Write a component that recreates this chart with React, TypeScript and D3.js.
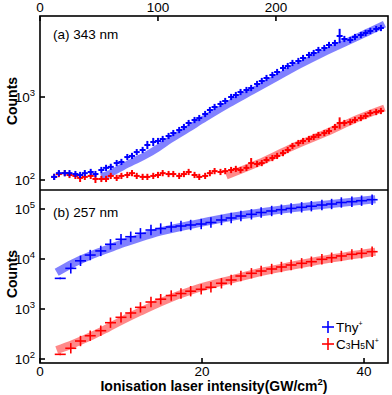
import * as d3 from "d3";

const W = 392;
const H = 395;

// ---- panel (a) 343 nm : top axis ----
const topX = [12, 16, 21, 25, 30, 34, 38, 43, 47, 52, 56, 60, 65, 69, 74, 78, 82, 87, 91, 96,
  100, 104, 109, 113, 118, 122, 126, 131, 135, 140, 144, 148, 153, 157, 162, 166, 170, 175, 179, 184,
  188, 192, 197, 201, 206, 210, 214, 219, 223, 228, 232, 236, 241, 245, 250, 254, 258, 263, 267, 272,
  276, 280, 285, 289];
const topThy = [109, 121, 121, 121, 118, 115, 121, 125, 118, 132, 140, 144, 160, 165, 189, 195, 217, 230, 264, 287,
  295, 312, 339, 368, 400, 435, 486, 528, 558, 624, 697, 758, 824, 895, 1000, 1057, 1148, 1214, 1283, 1435,
  1560, 1694, 1841, 2000, 2235, 2362, 2570, 2716, 2951, 3206, 3389, 3683, 3893, 4236, 4475, 5433, 5000, 4862, 5282, 5584,
  5902, 6239, 6595, 6780];
const topC3 = [109, 118, 121, 115, 112, 106, 109, 112, 103, 103, 103, 112, 106, 112, 115, 121, 112, 109, 109, 112,
  115, 121, 118, 118, 112, 118, 125, 115, 109, 112, 121, 128, 125, 128, 132, 136, 132, 140, 160, 156,
  160, 174, 184, 195, 211, 230, 257, 279, 295, 312, 330, 349, 368, 389, 435, 486, 486, 500, 528, 558,
  590, 641, 659, 678];
const topThyErr: Record<number, number> = { 55: 1.22, 18: 1.12, 19: 1.12 };
const topC3Err: Record<number, number> = { 38: 1.15, 55: 1.17, 5: 1.12, 8: 1.12 };
const topFitThyX = [52, 60, 70, 80, 90, 100, 110, 125, 140, 160, 180, 200, 220, 240, 260, 280, 292];
const topFitThy = [109, 121, 144, 170, 200, 243, 304, 411, 558, 824, 1181, 1694, 2431, 3389, 4600, 6239, 7570];
const topFitC3X = [158, 185, 214, 242, 270, 292];
const topFitC3 = [112, 160, 250, 368, 558, 737];

// ---- panel (b) 257 nm : bottom axis ----
const botX = [2.5, 3.8, 5.0, 6.2, 7.5, 8.7, 10.0, 11.2, 12.4, 13.7, 14.9, 16.2, 17.4, 18.6, 19.9, 21.1,
  22.4, 23.6, 24.8, 26.1, 27.3, 28.6, 29.8, 31.0, 32.3, 33.5, 34.8, 36.0, 37.2, 38.5, 39.7, 41.0];
const botThy = [4100, 6500, 9200, 12000, 14500, 19700, 24800, 27900, 32700, 38000, 40700, 43700, 45700, 47900, 50100, 53700,
  60300, 66100, 72400, 78300, 85100, 91200, 96800, 102800, 108100, 113800, 120200, 125900, 134900, 140000, 146600, 153500];
const botC3 = [124, 164, 229, 292, 368, 532, 682, 832, 1080, 1380, 1570, 1860, 2040, 2270, 2480, 2720,
  3270, 3800, 4570, 5180, 5750, 6310, 6920, 7590, 8200, 8830, 9860, 10600, 11500, 12400, 13000, 14000];
const botThyErr: Record<number, number> = { 0: 1.04 };
const botC3Err: Record<number, number> = { 0: 1.04 };
const botFitX = [2.06, 4.07, 6.17, 8.27, 10.25, 12.35, 14.8, 19.5, 23.7, 27.8, 31.1, 34.8, 41.4];
const botFitThy = [5420, 8200, 11640, 15630, 20600, 26670, 35160, 51760, 70150, 88310, 103300, 120200, 156300];
const botFitC3 = [151, 200, 279, 411, 603, 883, 1350, 2594, 3926, 5754, 7345, 9550, 14000];

const topXTicks = [0, 100, 200];
const topYTicks = [2, 3];
const botXTicks = [0, 20, 40];
const botYTicks = [2, 3, 4, 5];

const BLUE = "#0000ff";
const RED = "#ff0000";
const FONT = "Arial, 'Liberation Sans', sans-serif";

const L = 40, R = 388, T = 16, MID = 190, B = 363;

const xTop = d3.scaleLinear([0, 295], [L, R]);
const yTop = d3.scaleLog([75.8, 9463], [MID, T]);
const xBot = d3.scaleLinear([0, 42.96], [L, R]);
const yBot = d3.scaleLog([83.2, 239900], [B, MID]);

function Crosses({ xs, ys, x, y, color, hw, err, errDefault, sw }: any) {
  return (
    <g stroke={color} strokeWidth={sw}>
      {xs.map((xv: number, i: number) => {
        const f = err[i] ?? errDefault;
        const cx = x(xv);
        return (
          <g key={i}>
            <line x1={cx - hw} x2={cx + hw} y1={y(ys[i])} y2={y(ys[i])} />
            <line x1={cx} x2={cx} y1={y(ys[i] * f)} y2={y(ys[i] / f)} />
          </g>
        );
      })}
    </g>
  );
}

function Band({ xs, ys, x, y, color, width }: any) {
  const path = d3.line<number>().x((d, i) => x(xs[i])).y((d) => y(d)).curve(d3.curveMonotoneX)(ys);
  return <path d={path ?? ""} fill="none" stroke={color} strokeWidth={width} strokeOpacity={0.6} />;
}

function Pow({ x, y, exp }: { x: number; y: number; exp: number }) {
  return (
    <text x={x} y={y} textAnchor="end" fontSize={13.5} fontFamily={FONT}>
      10<tspan fontSize={9.5} dy={-6}>{exp}</tspan>
    </text>
  );
}

export default function App() {
  return (
    <svg width={W} height={H} style={{ position: "absolute", left: 0, top: 0, background: "#fff" }}>
      <rect width={W} height={H} fill="#fff" />

      {/* fits */}
      <Band xs={topFitThyX} ys={topFitThy} x={xTop} y={yTop} color="#2d2dff" width={7} />
      <Band xs={topFitC3X} ys={topFitC3} x={xTop} y={yTop} color="#ff3a3a" width={7} />
      <Band xs={botFitX} ys={botFitThy} x={xBot} y={yBot} color="#2d2dff" width={8} />
      <Band xs={botFitX} ys={botFitC3} x={xBot} y={yBot} color="#ff3a3a" width={8} />

      {/* data */}
      <Crosses xs={topX} ys={topC3} x={xTop} y={yTop} color={RED} hw={3} err={topC3Err} errDefault={1.09} sw={2} />
      <Crosses xs={topX} ys={topThy} x={xTop} y={yTop} color={BLUE} hw={3} err={topThyErr} errDefault={1.09} sw={2} />
      <Crosses xs={botX} ys={botC3} x={xBot} y={yBot} color={RED} hw={5.5} err={botC3Err} errDefault={1.27} sw={1.6} />
      <Crosses xs={botX} ys={botThy} x={xBot} y={yBot} color={BLUE} hw={5.5} err={botThyErr} errDefault={1.27} sw={1.6} />

      {/* frames */}
      <g fill="none" stroke="#000" strokeWidth={1.6}>
        <rect x={L} y={T} width={R - L} height={B - T} />
        <line x1={L} x2={R} y1={MID} y2={MID} />
      </g>

      {/* ticks */}
      <g stroke="#000" strokeWidth={1.6}>
        {topXTicks.map((t) => (
          <line key={"tx" + t} x1={xTop(t)} x2={xTop(t)} y1={T} y2={T + 5} />
        ))}
        {topYTicks.map((t) => (
          <line key={"ty" + t} x1={L} x2={L + 5} y1={yTop(10 ** t)} y2={yTop(10 ** t)} />
        ))}
        {botXTicks.map((t) => (
          <line key={"bx" + t} x1={xBot(t)} x2={xBot(t)} y1={B} y2={B - 5} />
        ))}
        {botYTicks.map((t) => (
          <line key={"by" + t} x1={L} x2={L + 5} y1={yBot(10 ** t)} y2={yBot(10 ** t)} />
        ))}
      </g>

      {topXTicks.map((t) => (
        <text key={"txl" + t} x={xTop(t)} y={12} textAnchor="middle" fontSize={13.5} fontFamily={FONT}>{t}</text>
      ))}
      {botXTicks.map((t) => (
        <text key={"bxl" + t} x={xBot(t)} y={376} textAnchor="middle" fontSize={13.5} fontFamily={FONT}>{t}</text>
      ))}
      {topYTicks.map((t) => (
        <Pow key={"tyl" + t} x={35} y={yTop(10 ** t) + 5} exp={t} />
      ))}
      {botYTicks.map((t) => (
        <Pow key={"byl" + t} x={35} y={yBot(10 ** t) + 5} exp={t} />
      ))}

      <text x={53} y={39} fontSize={13.5} fontFamily={FONT}>(a) 343 nm</text>
      <text x={53} y={217} fontSize={13.5} fontFamily={FONT}>(b) 257 nm</text>

      <text transform="translate(17,101) rotate(-90)" textAnchor="middle" fontSize={14} fontWeight="bold" fontFamily={FONT}>Counts</text>
      <text transform="translate(17,274) rotate(-90)" textAnchor="middle" fontSize={14} fontWeight="bold" fontFamily={FONT}>Counts</text>
      <text x={214} y={391} textAnchor="middle" fontSize={14} fontWeight="bold" fontFamily={FONT}>
        Ionisation laser intensity(GW/cm<tspan fontSize={9.5} dy={-6}>2</tspan><tspan dy={6}>)</tspan>
      </text>

      {/* legend */}
      <g strokeWidth={1.6}>
        <line x1={322} x2={334} y1={327} y2={327} stroke={BLUE} />
        <line x1={328} x2={328} y1={321} y2={333} stroke={BLUE} />
        <line x1={322} x2={334} y1={344} y2={344} stroke={RED} />
        <line x1={328} x2={328} y1={338} y2={350} stroke={RED} />
      </g>
      <text x={336} y={332} fontSize={13.5} fontFamily={FONT}>
        Thy<tspan fontSize={7} dy={-6}>+</tspan>
      </text>
      <text x={336} y={349} fontSize={13.5} fontFamily={FONT}>
        C<tspan fontSize={8.5}>3</tspan>H<tspan fontSize={8.5}>5</tspan>N<tspan fontSize={7} dy={-6}>+</tspan>
      </text>
    </svg>
  );
}
